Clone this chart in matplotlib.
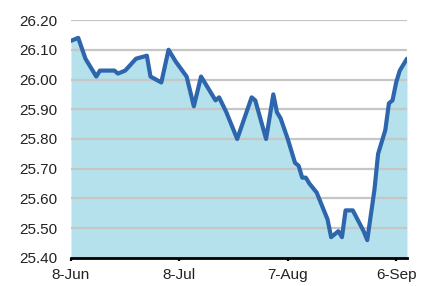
import pandas as pd
import matplotlib
matplotlib.use("Agg")
import matplotlib.pyplot as plt
import matplotlib.ticker as mticker

plt.rcParams['font.family'] = ['Liberation Sans', 'DejaVu Sans']

# data (date, rate)
dates = [
    "2015-06-08", "2015-06-10", "2015-06-12", "2015-06-15", "2015-06-16",
    "2015-06-20", "2015-06-21", "2015-06-23", "2015-06-26", "2015-06-29",
    "2015-06-30", "2015-07-03", "2015-07-05", "2015-07-07", "2015-07-10",
    "2015-07-12", "2015-07-14", "2015-07-18", "2015-07-19", "2015-07-21",
    "2015-07-24", "2015-07-28", "2015-07-29", "2015-08-01", "2015-08-03",
    "2015-08-04", "2015-08-05", "2015-08-07", "2015-08-09", "2015-08-10",
    "2015-08-11", "2015-08-12", "2015-08-13", "2015-08-15", "2015-08-17",
    "2015-08-18", "2015-08-19", "2015-08-21", "2015-08-22", "2015-08-23",
    "2015-08-25", "2015-08-28", "2015-08-29", "2015-08-31", "2015-09-01",
    "2015-09-03", "2015-09-04", "2015-09-05", "2015-09-06", "2015-09-07",
    "2015-09-09",
]
values = [
    26.13, 26.14, 26.07, 26.01, 26.03,
    26.03, 26.02, 26.03, 26.07, 26.08,
    26.01, 25.99, 26.10, 26.06, 26.01,
    25.91, 26.01, 25.93, 25.94, 25.89,
    25.80, 25.94, 25.93, 25.80, 25.95,
    25.89, 25.87, 25.80, 25.72, 25.71,
    25.67, 25.67, 25.65, 25.62, 25.56,
    25.53, 25.47, 25.49, 25.47, 25.56,
    25.56, 25.49, 25.46, 25.63, 25.75,
    25.83, 25.92, 25.93, 25.99, 26.03,
    26.07,
]
tick_dates = ["2015-06-08", "2015-07-08", "2015-08-07", "2015-09-06"]
tick_labels = ["8-Jun", "8-Jul", "7-Aug", "6-Sep"]
yticks = [25.40, 25.50, 25.60, 25.70, 25.80, 25.90, 26.00, 26.10, 26.20]

x = pd.to_datetime(dates)
ymin, ymax = 25.40, 26.20

fig = plt.figure(figsize=(4.29, 2.86), dpi=100)
ax = fig.add_axes([0.1655, 0.098, 0.7832, 0.832])

ax.fill_between(x, values, ymin, color="#B5E1EC", linewidth=0, zorder=1)
ax.plot(x, values, color="#2E66AD", linewidth=3.0, solid_capstyle="round",
        solid_joinstyle="round", zorder=3)

ax.set_ylim(ymin, ymax)
ax.set_xlim(pd.Timestamp("2015-06-08"), pd.Timestamp("2015-09-09"))

ax.set_yticks(yticks)
ax.yaxis.set_major_formatter(mticker.FormatStrFormatter("%.2f"))
ax.set_xticks(pd.to_datetime(tick_dates))
ax.set_xticklabels(tick_labels)

ax.yaxis.grid(True, color="#C6C6C6", linewidth=1.6, zorder=2)
ax.set_axisbelow(False)

for s in ["top", "left", "right"]:
    ax.spines[s].set_visible(False)
ax.spines["bottom"].set_linewidth(2.0)
ax.spines["bottom"].set_color("black")
ax.spines["bottom"].set_zorder(4)

ax.tick_params(axis="y", length=0, pad=10, labelsize=11, labelcolor="#222222")
ax.tick_params(axis="x", direction="out", length=2.5, width=1.6, pad=5,
               labelsize=11, labelcolor="#222222")

fig.savefig("out.png", dpi=100)
